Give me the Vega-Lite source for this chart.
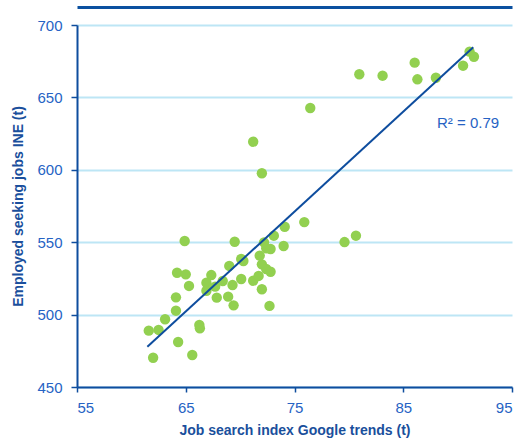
{
  "$schema": "https://vega.github.io/schema/vega-lite/v6.json",
  "autosize": {"type": "none"},
  "padding": {"left": 77, "top": 25, "right": 19, "bottom": 54},
  "width": 435,
  "height": 362,
  "background": "white",
  "config": {
    "view": {"stroke": null},
    "font": "Liberation Sans",
    "axis": {
      "labelFont": "Liberation Sans",
      "titleFont": "Liberation Sans",
      "labelFontSize": 15,
      "labelColor": "#2663c4",
      "titleColor": "#1a4f9c",
      "titleFontSize": 14,
      "titleFontWeight": "bold",
      "domainColor": "#0e4d9e",
      "domainWidth": 2,
      "tickColor": "#0e4d9e",
      "tickWidth": 1.5
    }
  },
  "datasets": {
    "points": [
      {"google": 91.1, "employed": 681.6},
      {"google": 91.5, "employed": 678.1},
      {"google": 86.05, "employed": 674.0},
      {"google": 90.5, "employed": 671.9},
      {"google": 80.96, "employed": 666.0},
      {"google": 83.1, "employed": 665.0},
      {"google": 86.3, "employed": 662.5},
      {"google": 88.0, "employed": 663.6},
      {"google": 76.45, "employed": 642.7},
      {"google": 71.2, "employed": 619.4},
      {"google": 72.0, "employed": 597.6},
      {"google": 75.9, "employed": 563.9},
      {"google": 74.1, "employed": 560.7},
      {"google": 73.1, "employed": 554.5},
      {"google": 80.65, "employed": 554.5},
      {"google": 79.6, "employed": 550.1},
      {"google": 64.9, "employed": 550.8},
      {"google": 69.5, "employed": 550.3},
      {"google": 72.2, "employed": 549.9},
      {"google": 74.0, "employed": 547.4},
      {"google": 72.4, "employed": 545.8},
      {"google": 72.8, "employed": 545.3},
      {"google": 71.8, "employed": 540.7},
      {"google": 70.1, "employed": 538.4},
      {"google": 70.3, "employed": 537.0},
      {"google": 72.0, "employed": 534.7},
      {"google": 72.4, "employed": 531.5},
      {"google": 72.8, "employed": 529.6},
      {"google": 69.0, "employed": 533.6},
      {"google": 67.35, "employed": 527.3},
      {"google": 66.9, "employed": 522.0},
      {"google": 67.7, "employed": 519.3},
      {"google": 68.4, "employed": 523.2},
      {"google": 69.3, "employed": 520.4},
      {"google": 70.1, "employed": 524.6},
      {"google": 71.2, "employed": 523.4},
      {"google": 71.7, "employed": 526.7},
      {"google": 66.9, "employed": 516.5},
      {"google": 67.85, "employed": 511.7},
      {"google": 68.9, "employed": 512.4},
      {"google": 69.4, "employed": 506.4},
      {"google": 72.0, "employed": 517.5},
      {"google": 72.7, "employed": 506.0},
      {"google": 64.2, "employed": 528.9},
      {"google": 65.0, "employed": 527.8},
      {"google": 65.3, "employed": 519.8},
      {"google": 64.1, "employed": 511.9},
      {"google": 64.1, "employed": 502.7},
      {"google": 63.1, "employed": 496.8},
      {"google": 61.6, "employed": 488.9},
      {"google": 62.5, "employed": 489.4},
      {"google": 66.25, "employed": 492.8},
      {"google": 66.3, "employed": 490.5},
      {"google": 64.3, "employed": 481.1},
      {"google": 65.6, "employed": 472.1},
      {"google": 62.0, "employed": 470.2}
    ],
    "trend": [
      {"google": 61.47, "employed": 477.8},
      {"google": 91.44, "employed": 684.6}
    ],
    "label": [
      {"google": 88.1, "employed": 632.3, "text": "R² = 0.79"}
    ]
  },
  "resolve": {"axis": {"x": "independent"}},
  "layer": [
    {
      "data": {"name": "points"},
      "mark": {"type": "circle", "size": 108, "color": "#92d050", "opacity": 1},
      "encoding": {
        "x": {
          "field": "google",
          "type": "quantitative",
          "scale": {"domain": [55, 95], "nice": false, "zero": false},
          "axis": {
            "values": [55, 65, 75, 85, 95],
            "grid": false,
            "tickSize": 5,
            "labelPadding": 8,
            "title": "Job search index Google trends (t)",
            "titlePadding": 8
          }
        },
        "y": {
          "field": "employed",
          "type": "quantitative",
          "scale": {"domain": [450, 700], "nice": false, "zero": false},
          "axis": {
            "values": [450, 500, 550, 600, 650, 700],
            "grid": true,
            "gridColor": "#bde6f5",
            "gridWidth": 2,
            "tickSize": 6,
            "labelPadding": 9,
            "title": "Employed seeking jobs INE (t)",
            "titlePadding": 11
          }
        }
      }
    },
    {
      "data": {"name": "trend"},
      "mark": {"type": "line", "color": "#0e4d9e", "strokeWidth": 2},
      "encoding": {
        "x": {
          "field": "google",
          "type": "quantitative",
          "axis": {
            "orient": "top",
            "labels": false,
            "ticks": false,
            "grid": false,
            "title": null,
            "domainColor": "#0b50a0",
            "domainWidth": 3,
            "offset": 18
          }
        },
        "y": {"field": "employed", "type": "quantitative"}
      }
    },
    {
      "data": {"name": "label"},
      "mark": {"type": "text", "align": "left", "baseline": "middle", "fontSize": 15, "color": "#2663c4", "font": "Liberation Sans"},
      "encoding": {
        "x": {"field": "google", "type": "quantitative", "axis": null},
        "y": {"field": "employed", "type": "quantitative"},
        "text": {"field": "text"}
      }
    }
  ]
}
